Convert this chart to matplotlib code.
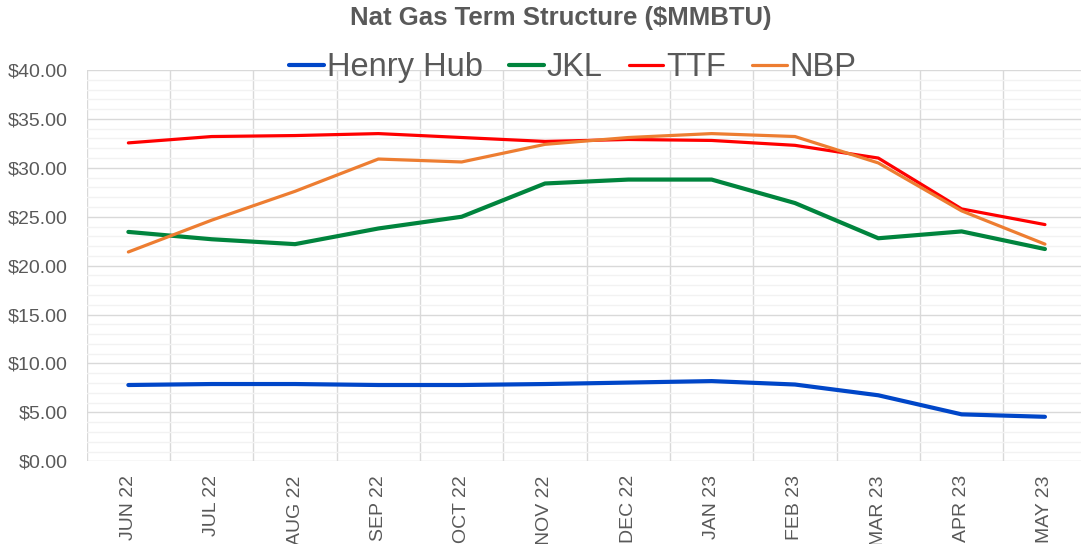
import numpy as np
import matplotlib.pyplot as plt
from matplotlib.ticker import MultipleLocator, FixedLocator, FuncFormatter

months = ['JUN 22', 'JUL 22', 'AUG 22', 'SEP 22', 'OCT 22', 'NOV 22',
          'DEC 22', 'JAN 23', 'FEB 23', 'MAR 23', 'APR 23', 'MAY 23']
henry_hub = [7.8, 7.9, 7.9, 7.8, 7.8, 7.9, 8.05, 8.2, 7.85, 6.75, 4.8, 4.55]
jkl = [23.45, 22.7, 22.2, 23.8, 25.0, 28.4, 28.8, 28.8, 26.4, 22.8, 23.5, 21.7]
ttf = [32.55, 33.2, 33.3, 33.5, 33.1, 32.7, 32.9, 32.8, 32.3, 31.0, 25.8, 24.2]
nbp = [21.4, 24.65, 27.6, 30.9, 30.6, 32.4, 33.1, 33.5, 33.2, 30.5, 25.6, 22.2]

gray = '#595959'
font = 'Liberation Sans'

fig = plt.figure(figsize=(10.81, 5.44), dpi=100)
ax = fig.add_axes([0.0802, 0.152, 0.925, 0.7193])

x = np.arange(len(months))
ax.plot(x, henry_hub, color='#0046C8', lw=3.0, label='Henry Hub', solid_capstyle='round')
ax.plot(x, jkl, color='#00843D', lw=3.0, label='JKL', solid_capstyle='round')
ax.plot(x, ttf, color='#FF0000', lw=2.3, label='TTF', solid_capstyle='round')
ax.plot(x, nbp, color='#ED7D31', lw=2.3, label='NBP', solid_capstyle='round')

ax.set_xlim(-0.5, len(months) - 0.5)
ax.set_ylim(0, 40)
ax.set_xticks(x)
ax.set_xticklabels(months, rotation=90)
ax.xaxis.set_minor_locator(FixedLocator(np.arange(-0.5, len(months))))
ax.yaxis.set_major_locator(MultipleLocator(5))
ax.yaxis.set_minor_locator(MultipleLocator(1))
ax.yaxis.set_major_formatter(FuncFormatter(lambda v, p: '${:.2f}'.format(v)))

ax.grid(axis='x', which='minor', color='#D9D9D9', lw=1.0)
ax.grid(axis='y', which='major', color='#D9D9D9', lw=1.0)
ax.grid(axis='y', which='minor', color='#F2F2F2', lw=1.0)
ax.set_axisbelow(True)
for s in ax.spines.values():
    s.set_visible(False)
ax.tick_params(which='both', length=0, colors=gray, labelsize=14)
ax.tick_params(axis='x', pad=10)
ax.tick_params(axis='y', pad=14)
for lbl in ax.get_xticklabels() + ax.get_yticklabels():
    lbl.set_family(font)

fig.text(0.519, 0.966, 'Nat Gas Term Structure ($MMBTU)', ha='center', va='center',
         fontsize=18.5, fontweight='bold', color=gray, family=font)
leg = fig.legend(loc='center', bbox_to_anchor=(0.53, 0.876), ncol=4, frameon=False,
                 handlelength=1.07, handletextpad=0.08, columnspacing=0.8,
                 prop={'family': font, 'size': 23.5})
for t in leg.get_texts():
    t.set_color(gray)

fig.savefig('out.png', dpi=100)
